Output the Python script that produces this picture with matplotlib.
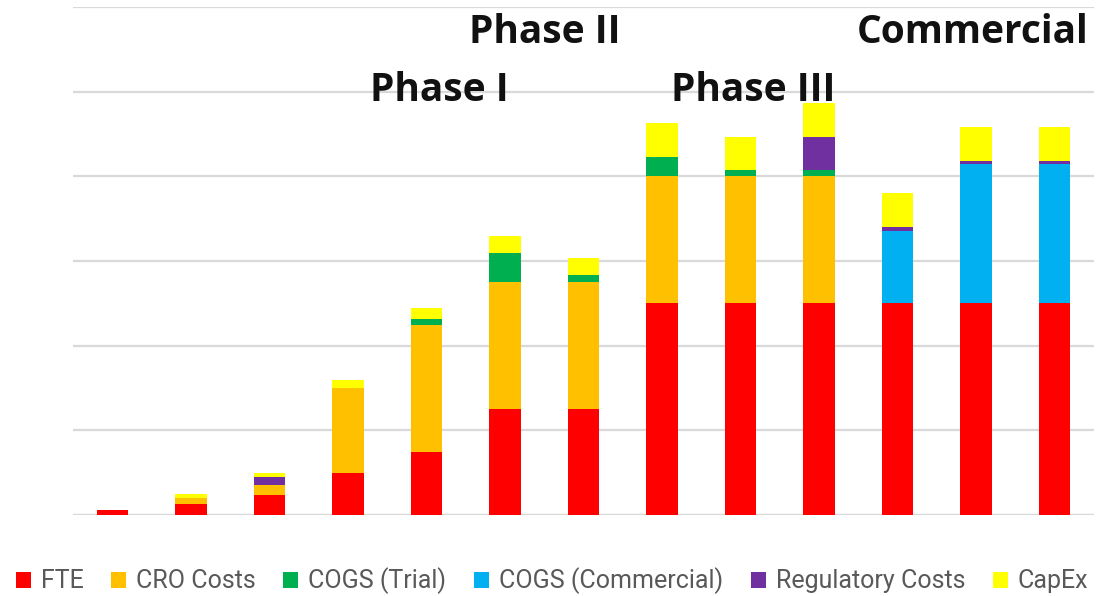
import matplotlib
matplotlib.use("Agg")
import matplotlib.pyplot as plt
import numpy as np
from matplotlib.patches import Patch

categories = [f"Y{i}" for i in range(1, 14)]
fte = [0.06, 0.13, 0.24, 0.50, 0.75, 1.25, 1.25, 2.5, 2.5, 2.5, 2.5, 2.5, 2.5]
cro = [0.0, 0.07, 0.11, 1.0, 1.5, 1.5, 1.5, 1.5, 1.5, 1.5, 0.0, 0.0, 0.0]
cogs_trial = [0, 0, 0, 0, 0.07, 0.35, 0.08, 0.23, 0.08, 0.08, 0, 0, 0]
cogs_comm = [0, 0, 0, 0, 0, 0, 0, 0, 0, 0, 0.86, 1.65, 1.65]
regulatory = [0, 0, 0.10, 0, 0, 0, 0, 0, 0, 0.39, 0.04, 0.03, 0.03]
capex = [0, 0.05, 0.05, 0.09, 0.12, 0.20, 0.20, 0.40, 0.39, 0.40, 0.40, 0.40, 0.40]

series_names = ["FTE", "CRO Costs", "COGS (Trial)", "COGS (Commercial)", "Regulatory Costs", "CapEx"]
series = [fte, cro, cogs_trial, cogs_comm, regulatory, capex]
colors = ["#FF0000", "#FFC000", "#00B050", "#00B0F0", "#7030A0", "#FFFF00"]

phase_labels = ["Phase I", "Phase II", "Phase III", "Commercial"]
phase_x = [4.17, 5.51, 8.16, 10.96]
phase_y = [4.89, 5.58, 4.89, 5.58]

fig = plt.figure(figsize=(10.96, 5.96), dpi=100)
ax = fig.add_axes([73/1096, 81/596, (1094-73)/1096, (515-7)/596])

x = np.arange(len(categories))
bottom = np.zeros(len(categories))
for vals, name, c in zip(series, series_names, colors):
    v = np.array(vals, dtype=float)
    ax.bar(x, v, bottom=bottom, width=0.40, color=c, label=name, zorder=3, linewidth=0)
    bottom += v

ax.set_xlim(-0.5, 12.5)
ax.set_ylim(0, 6)
ax.set_yticks(np.arange(0, 7, 1))
ax.yaxis.grid(True, color="#D9D9D9", linewidth=1.6, zorder=0)
ax.set_axisbelow(True)
for s in ax.spines.values():
    s.set_visible(False)
ax.tick_params(left=False, bottom=False, labelleft=False, labelbottom=False)
ax.axhline(0, color="#D9D9D9", linewidth=1.6, zorder=1)

for lab, px, py in zip(phase_labels, phase_x, phase_y):
    ax.text(px, py, lab, ha="center", va="baseline", fontsize=28, fontweight="bold",
            family="Open Sans", color="#111111", clip_on=False, zorder=5)

handles = [Patch(facecolor=c, edgecolor="none") for c in colors]
fig.legend(handles, series_names, loc="center", bbox_to_anchor=(552/1096, 15/596), ncol=6,
           frameon=False, prop={"family": "Roboto", "size": 18}, labelcolor="#595959",
           handlelength=0.6, handleheight=0.6, handletextpad=0.4, columnspacing=1.1,
           borderaxespad=0)

fig.savefig("out.png", dpi=100)
